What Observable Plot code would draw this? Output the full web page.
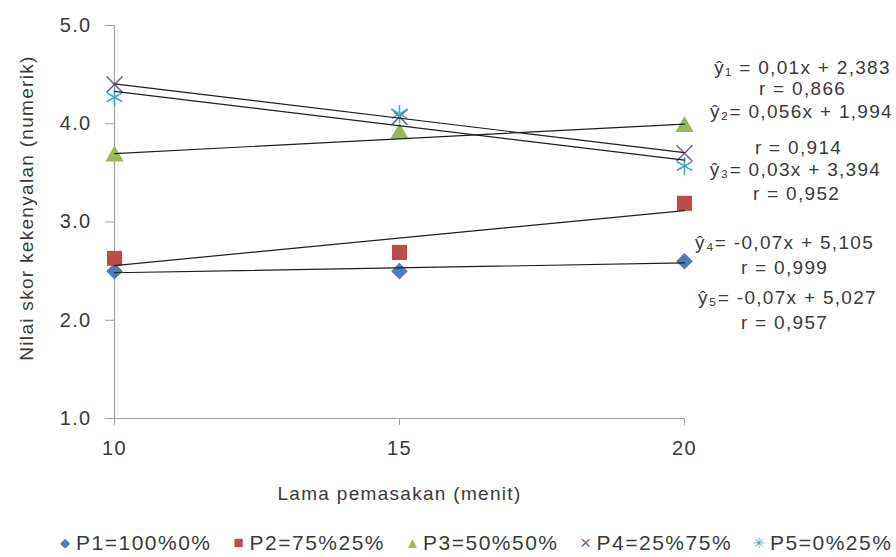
<!DOCTYPE html>
<html>
<head>
<meta charset="utf-8">
<script src="https://cdn.jsdelivr.net/npm/d3@7"></script>
<script src="https://cdn.jsdelivr.net/npm/@observablehq/plot@0.6"></script>
<style>
  html, body { margin: 0; padding: 0; background: #ffffff; }
  #chart { width: 896px; height: 557px; overflow: hidden; font-family: "Liberation Sans", Arial, sans-serif; }
  #chart svg { display: block; }
  .legend { display: flex; align-items: center; height: 37px; box-sizing: border-box; padding-top: 8px; padding-left: 58px;
            white-space: nowrap; font-size: 21px; letter-spacing: 1.5px; color: #3a3a3a; }
  .legend .item { display: flex; align-items: center; margin-right: 20px; }
  .legend .mk { display: inline-block; width: 14px; text-align: center; margin-right: 4px; letter-spacing: 0; }
</style>
</head>
<body>
<div id="chart"></div>
<script>
// ---------- data ----------
const minutes = [10, 15, 20];
const seriesNames = ["P1=100%0%", "P2=75%25%", "P3=50%50%", "P4=25%75%", "P5=0%25%"];
const p1Values = [2.5, 2.5, 2.6];
const p2Values = [2.63, 2.69, 3.19];
const p3Values = [3.67, 3.9, 3.97];
const p4Values = [4.4, 4.07, 3.7];
const p5Values = [4.27, 4.1, 3.57];
const yTicks = [1, 2, 3, 4, 5];
const xTicks = [10, 15, 20];
const equationLines = [
  "ŷ₁ = 0,01x + 2,383", "r = 0,866",
  "ŷ₂= 0,056x + 1,994", "r = 0,914",
  "ŷ₃= 0,03x + 3,394", "r = 0,952",
  "ŷ₄= -0,07x + 5,105", "r = 0,999",
  "ŷ₅= -0,07x + 5,027", "r = 0,957"
];
const yLabel = "Nilai skor kekenyalan (numerik)";
const xLabel = "Lama pemasakan (menit)";

// ---------- styles (not data) ----------
const colors = ["#4a7ebb", "#be4b48", "#98b954", "#7d60a0", "#46aac5"];
const symbols = ["diamond2", "square", "triangle", "times", "asterisk"];
const radii = [7.5, 8.5, 6.8, 7.3, 8.5];
const filled = [true, true, true, false, false];
const legendGlyphs = ["◆", "■", "▲", "×", "✳"];
const legendGlyphSize = [13, 17, 15, 19, 14];
// annotation placement relative to the frame's top-left corner (pixels)
const annDx = [688, 688, 687, 684, 681, 682, 670, 670, 673, 670];
const annDy = [42, 63, 86, 122, 144, 168, 217, 242, 272, 297];

const valueLists = [p1Values, p2Values, p3Values, p4Values, p5Values];
const rows = seriesNames.flatMap((name, i) =>
  minutes.map((m, j) => ({series: name, minute: m, score: valueLists[i][j]}))
);

const font = "Liberation Sans, Arial, sans-serif";
const axisColor = "#a0a0a0";
const textColor = "#3a3a3a";

const dotMarks = seriesNames.map((name, i) =>
  Plot.dot(rows.filter(d => d.series === name), {
    x: "minute", y: "score",
    symbol: symbols[i], r: radii[i],
    fill: filled[i] ? colors[i] : "none",
    stroke: filled[i] ? "none" : colors[i],
    strokeWidth: filled[i] ? 0 : 1.6
  })
);

const annMarks = equationLines.map((t, i) =>
  Plot.text([t], {
    frameAnchor: "top-left", dx: annDx[i], dy: annDy[i],
    text: d => d, textAnchor: "middle", lineAnchor: "middle",
    fontSize: 19, fill: textColor
  })
);

const plot = Plot.plot({
  width: 896,
  height: 520,
  marginLeft: 114,
  marginRight: 212,
  marginTop: 25,
  marginBottom: 102,
  style: {fontFamily: font, fontSize: "19px", color: textColor, background: "#fff", letterSpacing: "1.3px"},
  x: {domain: [10, 20]},
  y: {domain: [1, 5]},
  marks: [
    Plot.ruleY([1], {stroke: axisColor, strokeWidth: 1.2}),
    Plot.ruleX([10], {stroke: axisColor, strokeWidth: 1.2}),
    Plot.axisY({ticks: yTicks, tickFormat: d3.format(".1f"), tickSize: 9, tickPadding: 14,
                stroke: axisColor, fill: textColor, label: null, fontSize: 20}),
    Plot.axisX({ticks: xTicks, tickFormat: d => String(d), tickSize: 7, tickPadding: 15,
                stroke: axisColor, fill: textColor, label: null, fontSize: 20}),
    ...dotMarks,
    Plot.linearRegressionY(rows, {x: "minute", y: "score", z: "series", ci: 0,
                                  stroke: "#1e1e1e", strokeWidth: 1.2}),
    Plot.text([yLabel], {frameAnchor: "left", dx: -88, dy: -14, rotate: -90,
                         text: d => d, textAnchor: "middle", lineAnchor: "middle",
                         fontSize: 19, fill: textColor}),
    Plot.text([xLabel], {frameAnchor: "bottom", dx: 0, dy: 75,
                         text: d => d, textAnchor: "middle", lineAnchor: "middle",
                         fontSize: 19, fill: textColor}),
    ...annMarks
  ]
});

const chart = document.getElementById("chart");
chart.appendChild(plot);

const legend = document.createElement("div");
legend.className = "legend";
seriesNames.forEach((name, i) => {
  const item = document.createElement("span");
  item.className = "item";
  const mk = document.createElement("span");
  mk.className = "mk";
  mk.textContent = legendGlyphs[i];
  mk.style.color = colors[i];
  mk.style.fontSize = legendGlyphSize[i] + "px";
  const label = document.createElement("span");
  label.textContent = name;
  item.appendChild(mk);
  item.appendChild(label);
  legend.appendChild(item);
});
chart.appendChild(legend);
</script>
</body>
</html>
